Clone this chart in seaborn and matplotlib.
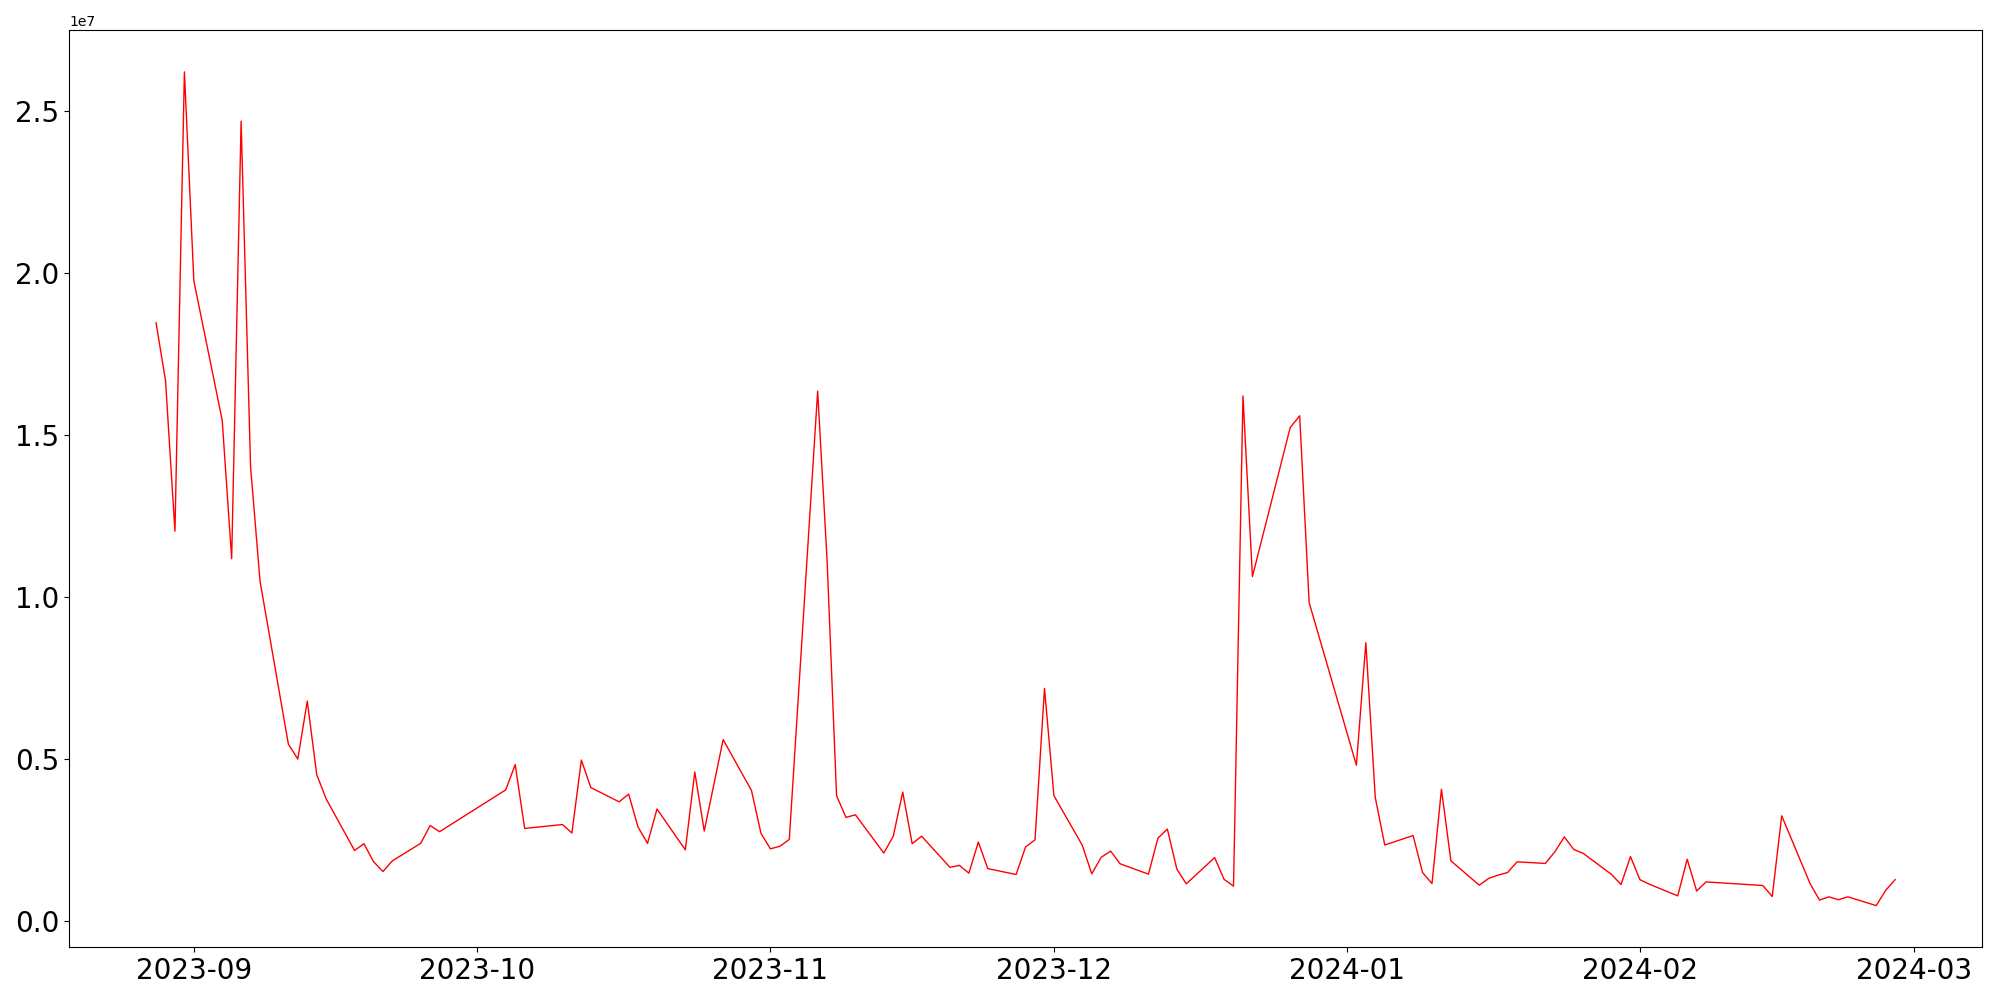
import pandas as pd
import numpy as np
import matplotlib
matplotlib.use('Agg')
import matplotlib.pyplot as plt
import seaborn as sns

# daily values (units of 1e7)
dates = [
    '2023-08-28', '2023-08-29', '2023-08-30', '2023-08-31', '2023-09-01',
    '2023-09-04', '2023-09-05', '2023-09-06', '2023-09-07', '2023-09-08',
    '2023-09-11', '2023-09-12', '2023-09-13', '2023-09-14', '2023-09-15',
    '2023-09-18', '2023-09-19', '2023-09-20', '2023-09-21', '2023-09-22',
    '2023-09-25', '2023-09-26', '2023-09-27',
    '2023-10-04', '2023-10-05', '2023-10-06',
    '2023-10-10', '2023-10-11', '2023-10-12', '2023-10-13',
    '2023-10-16', '2023-10-17', '2023-10-18', '2023-10-19', '2023-10-20',
    '2023-10-23', '2023-10-24', '2023-10-25', '2023-10-27',
    '2023-10-30', '2023-10-31', '2023-11-01', '2023-11-02', '2023-11-03',
    '2023-11-06', '2023-11-07', '2023-11-08', '2023-11-09', '2023-11-10',
    '2023-11-13', '2023-11-14', '2023-11-15', '2023-11-16', '2023-11-17',
    '2023-11-20', '2023-11-21', '2023-11-22', '2023-11-23', '2023-11-24',
    '2023-11-27', '2023-11-28', '2023-11-29', '2023-11-30', '2023-12-01',
    '2023-12-04', '2023-12-05', '2023-12-06', '2023-12-07', '2023-12-08',
    '2023-12-11', '2023-12-12', '2023-12-13', '2023-12-14', '2023-12-15',
    '2023-12-18', '2023-12-19', '2023-12-20', '2023-12-21', '2023-12-22',
    '2023-12-26', '2023-12-27', '2023-12-28',
    '2024-01-02', '2024-01-03', '2024-01-04', '2024-01-05',
    '2024-01-08', '2024-01-09', '2024-01-10', '2024-01-11', '2024-01-12',
    '2024-01-15', '2024-01-16', '2024-01-17', '2024-01-18', '2024-01-19',
    '2024-01-22', '2024-01-23', '2024-01-24', '2024-01-25', '2024-01-26',
    '2024-01-29', '2024-01-30', '2024-01-31', '2024-02-01', '2024-02-02',
    '2024-02-05', '2024-02-06', '2024-02-07', '2024-02-08',
    '2024-02-14', '2024-02-15', '2024-02-16',
    '2024-02-19', '2024-02-20', '2024-02-21', '2024-02-22', '2024-02-23',
    '2024-02-26', '2024-02-27', '2024-02-28',
]
values = [
    1.846, 1.668, 1.203, 2.620, 1.975,
    1.545, 1.118, 2.468, 1.402, 1.049,
    0.546, 0.500, 0.679, 0.452, 0.377,
    0.218, 0.239, 0.184, 0.153, 0.186,
    0.240, 0.295, 0.276,
    0.405, 0.483, 0.286,
    0.298, 0.272, 0.497, 0.412,
    0.368, 0.392, 0.290, 0.240, 0.346,
    0.220, 0.460, 0.278, 0.560,
    0.403, 0.271, 0.223, 0.231, 0.252,
    1.635, 1.112, 0.387, 0.320, 0.328,
    0.210, 0.262, 0.398, 0.239, 0.262,
    0.166, 0.172, 0.148, 0.244, 0.162,
    0.144, 0.229, 0.251, 0.718, 0.387,
    0.234, 0.146, 0.197, 0.216, 0.177,
    0.145, 0.256, 0.284, 0.161, 0.115,
    0.196, 0.129, 0.108, 1.620, 1.063,
    1.523, 1.559, 0.983,
    0.481, 0.859, 0.381, 0.235,
    0.264, 0.150, 0.116, 0.407, 0.186,
    0.111, 0.132, 0.142, 0.150, 0.183,
    0.178, 0.214, 0.260, 0.221, 0.209,
    0.144, 0.113, 0.199, 0.128, 0.114,
    0.078, 0.191, 0.093, 0.121,
    0.110, 0.076, 0.325,
    0.116, 0.065, 0.075, 0.066, 0.075,
    0.048, 0.095, 0.128,
]

df = pd.DataFrame({'date': pd.to_datetime(dates), 'value': np.array(values) * 1e7})

fig, ax = plt.subplots(figsize=(20, 10))
sns.lineplot(data=df, x='date', y='value', color='red', linewidth=1.0, ax=ax)
ax.set(xlabel='', ylabel='')
plt.xticks(fontsize=20)
plt.yticks(fontsize=20)
plt.tight_layout()
plt.savefig('out.png', dpi=100)
plt.close()
